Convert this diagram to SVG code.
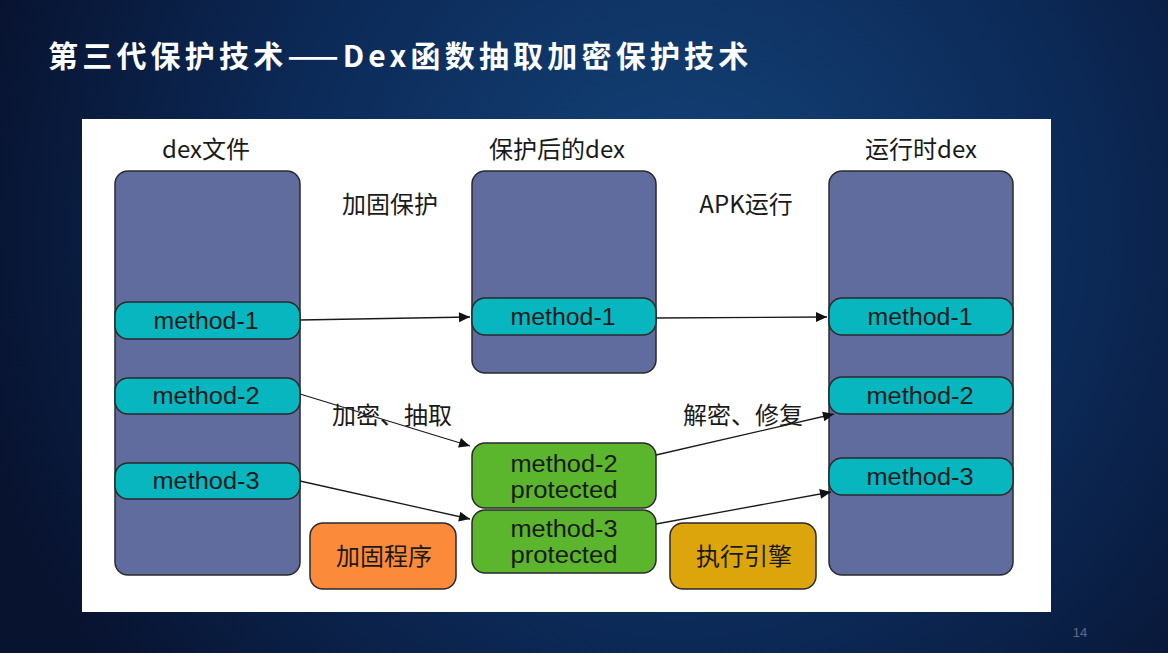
<svg xmlns="http://www.w3.org/2000/svg" width="1168" height="653" viewBox="0 0 1168 653">
<defs>
<radialGradient id="bg" cx="680" cy="230" r="720" gradientUnits="userSpaceOnUse">
<stop offset="0" stop-color="#144479"/>
<stop offset="0.55" stop-color="#0c2a58"/>
<stop offset="1" stop-color="#081330"/>
</radialGradient>
<marker id="ahb" viewBox="0 0 10 10" refX="10" refY="5" markerWidth="15" markerHeight="11" markerUnits="userSpaceOnUse" orient="auto">
<path d="M0,0.5 L10,5 L0,9.5 z" fill="#111"/>
</marker>
</defs>
<style>
.cj{font-family:"Noto Sans CJK SC","Liberation Sans",sans-serif;fill:#1a1a1a;font-size:24px;text-anchor:middle;}
.m{font-family:"Liberation Sans","Noto Sans CJK SC",sans-serif;fill:#1a1a1a;font-size:23px;text-anchor:middle;}
.box{fill:#606b9e;stroke:#2a2a2a;stroke-width:1.5;}
.pill{fill:#08b6c0;stroke:#2a2a2a;stroke-width:1.5;}
.grn{fill:#5bb52d;stroke:#2a2a2a;stroke-width:1.5;}
.edge{stroke:#1a1a1a;stroke-width:1.3;fill:none;marker-end:url(#ahb);}
</style>
<rect x="0" y="0" width="1168" height="653" fill="url(#bg)"/>
<text x="48" y="67" font-family="'Noto Sans CJK SC','Liberation Sans',sans-serif" font-weight="bold" font-size="30" letter-spacing="4.2" fill="#ffffff">第三代保护技术——Dex函数抽取加密保护技术</text>
<rect x="82" y="119" width="969" height="493" fill="#ffffff"/>
<text x="1080" y="637" font-family="'Liberation Sans',sans-serif" font-size="13" fill="#5e6c8a" text-anchor="middle">14</text>

<g id="labels">
<text class="cj" x="206" y="158">dex文件</text>
<text class="cj" x="557" y="158">保护后的dex</text>
<text class="cj" x="921" y="158">运行时dex</text>
<text class="cj" x="390" y="213">加固保护</text>
<text class="cj" x="746" y="213">APK运行</text>
<text class="cj" x="392" y="424">加密、抽取</text>
<text class="cj" x="743" y="424">解密、修复</text>
</g>

<g id="dex-file">
<rect class="box" x="115" y="171" width="185" height="404" rx="13"/>
</g>
<g id="protected-dex">
<rect class="box" x="472" y="171" width="184" height="202" rx="13"/>
</g>
<g id="runtime-dex">
<rect class="box" x="829" y="171" width="184" height="404" rx="13"/>
</g>

<g id="left-method-1"><rect class="pill" x="115" y="302" width="185" height="37" rx="13"/><text class="m" x="206" y="329" textLength="105" lengthAdjust="spacingAndGlyphs">method-1</text></g>
<g id="left-method-2"><rect class="pill" x="115" y="378" width="185" height="36" rx="13"/><text class="m" x="206" y="404" textLength="107" lengthAdjust="spacingAndGlyphs">method-2</text></g>
<g id="left-method-3"><rect class="pill" x="115" y="463" width="185" height="36" rx="13"/><text class="m" x="206" y="489" textLength="107" lengthAdjust="spacingAndGlyphs">method-3</text></g>

<g id="mid-method-1"><rect class="pill" x="472" y="298" width="184" height="37" rx="13"/><text class="m" x="563" y="325" textLength="105" lengthAdjust="spacingAndGlyphs">method-1</text></g>
<g id="mid-method-2"><rect class="grn" x="472" y="443" width="184" height="65" rx="13"/><text class="m" x="564" y="472" textLength="107" lengthAdjust="spacingAndGlyphs">method-2</text><text class="m" x="564" y="498" textLength="107" lengthAdjust="spacingAndGlyphs">protected</text></g>
<g id="mid-method-3"><rect class="grn" x="472" y="510" width="184" height="63" rx="13"/><text class="m" x="564" y="537" textLength="107" lengthAdjust="spacingAndGlyphs">method-3</text><text class="m" x="564" y="563" textLength="107" lengthAdjust="spacingAndGlyphs">protected</text></g>

<g id="right-method-1"><rect class="pill" x="829" y="298" width="184" height="37" rx="13"/><text class="m" x="920" y="325" textLength="105" lengthAdjust="spacingAndGlyphs">method-1</text></g>
<g id="right-method-2"><rect class="pill" x="829" y="377" width="184" height="37" rx="13"/><text class="m" x="920" y="404" textLength="107" lengthAdjust="spacingAndGlyphs">method-2</text></g>
<g id="right-method-3"><rect class="pill" x="829" y="458" width="184" height="37" rx="13"/><text class="m" x="920" y="485" textLength="107" lengthAdjust="spacingAndGlyphs">method-3</text></g>

<g id="packer"><rect x="310" y="523" width="146" height="66" rx="13" fill="#fb8a3b" stroke="#2a2a2a" stroke-width="1.5"/><text class="cj" x="384" y="565">加固程序</text></g>
<g id="engine"><rect x="670" y="523" width="146" height="66" rx="13" fill="#dca50b" stroke="#2a2a2a" stroke-width="1.5"/><text class="cj" x="744" y="565">执行引擎</text></g>

<g id="connectors">
<line class="edge" x1="300" y1="320" x2="470" y2="317"/>
<line class="edge" x1="300" y1="394" x2="470" y2="446"/>
<line class="edge" x1="300" y1="481" x2="470" y2="519"/>
<line class="edge" x1="656" y1="318" x2="827" y2="317"/>
<line class="edge" x1="656" y1="455" x2="834" y2="414"/>
<line class="edge" x1="656" y1="524" x2="831" y2="492"/>
</g>
</svg>
